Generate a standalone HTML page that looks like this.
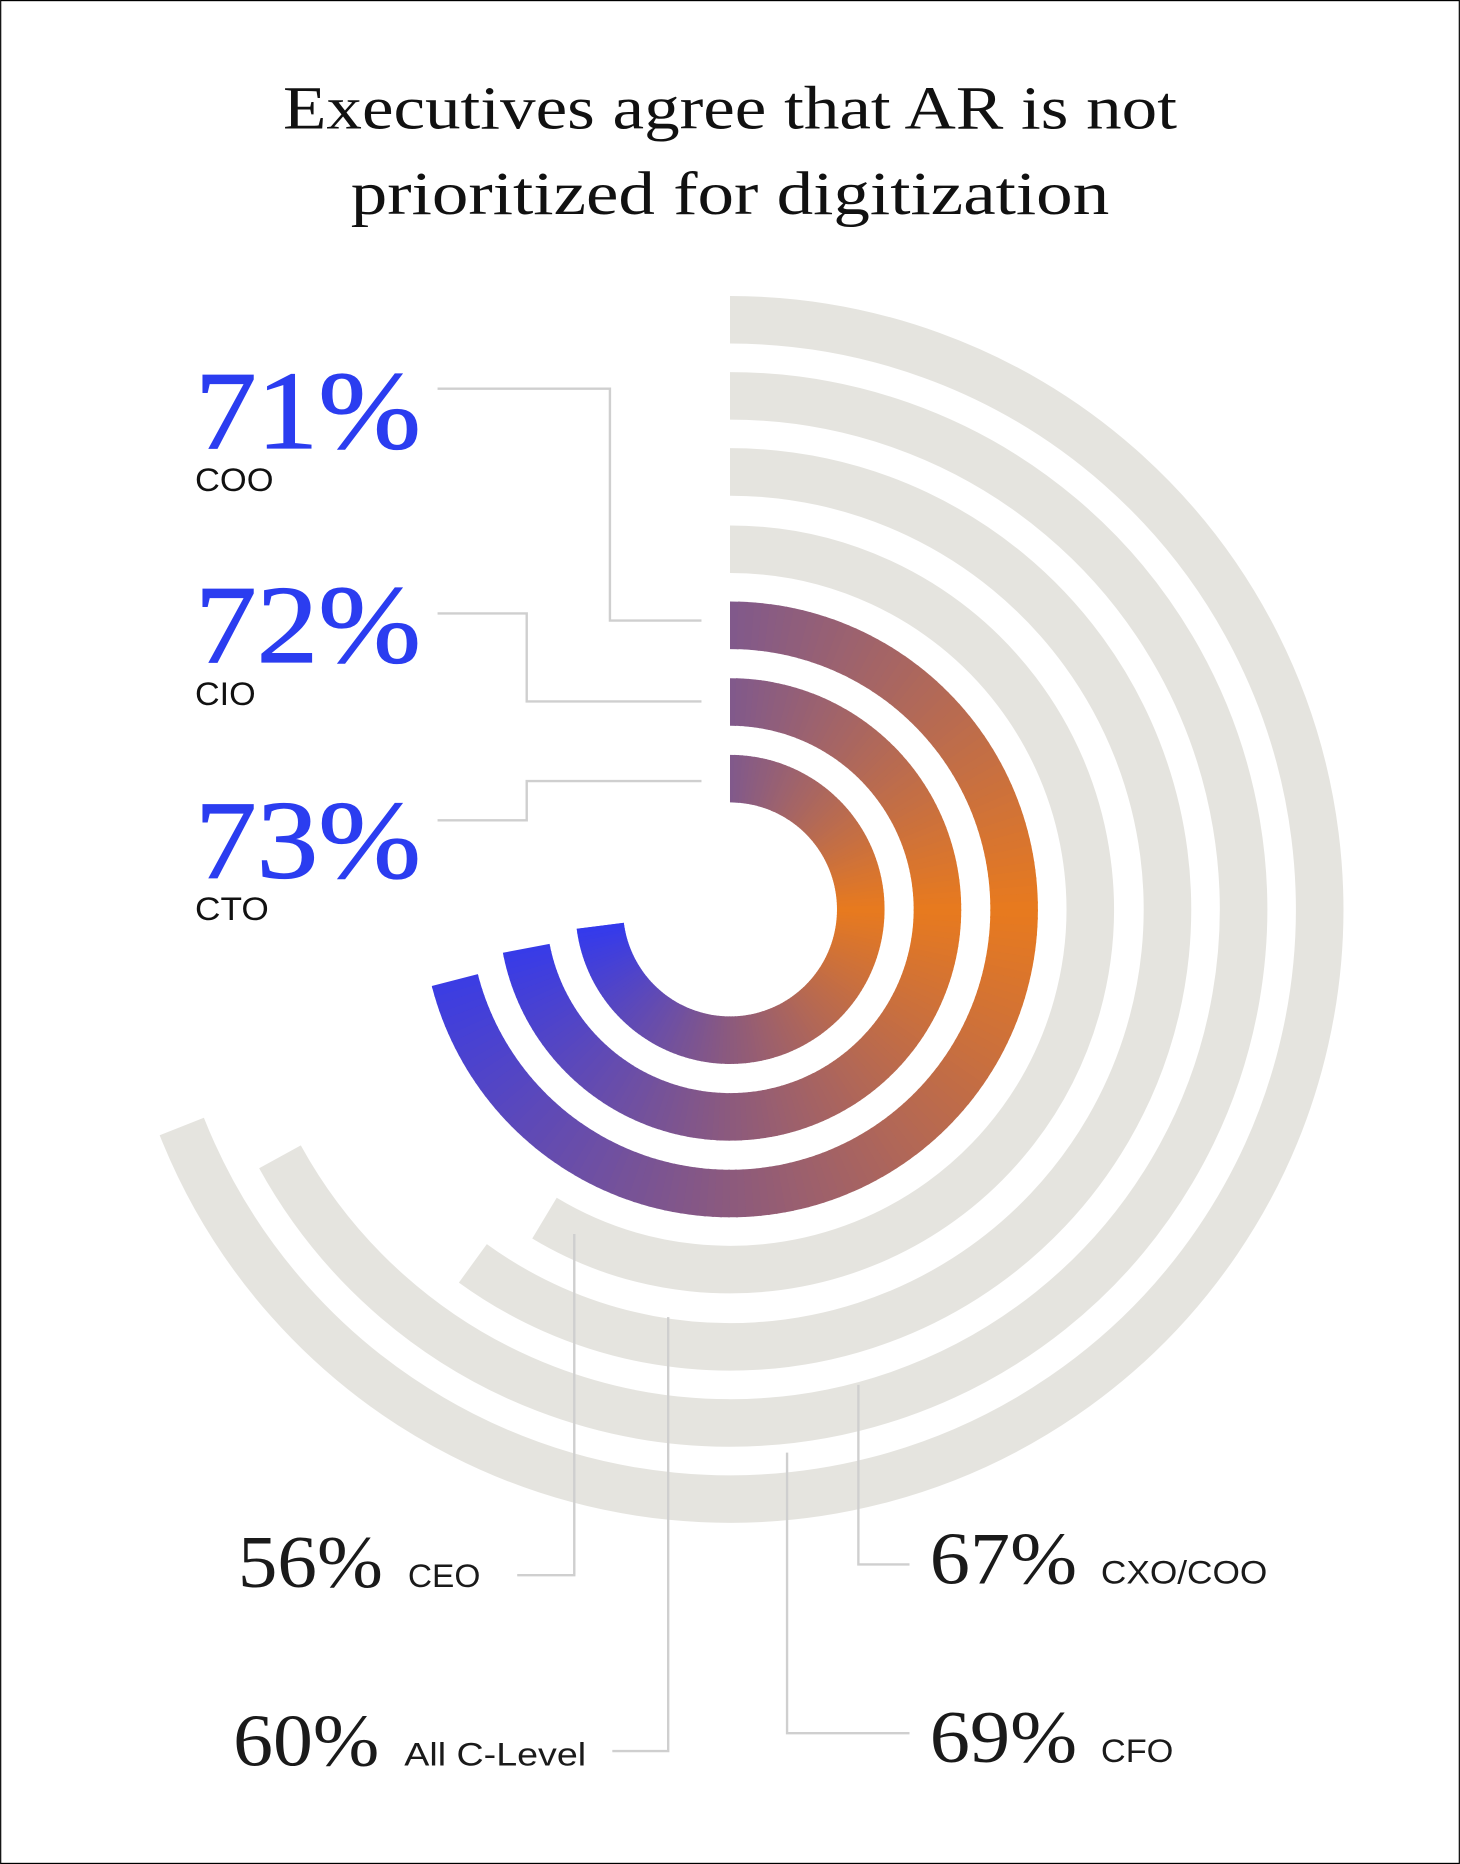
<!DOCTYPE html>
<html><head><meta charset="utf-8">
<style>
html,body{margin:0;padding:0;background:#fff;}
svg{display:block;}
.serif{font-family:"Liberation Serif","DejaVu Serif",serif;}
.sans{font-family:"Liberation Sans","DejaVu Sans",sans-serif;}
</style></head>
<body>
<svg id="s" width="1460" height="1864" viewBox="0 0 1228 1568" xmlns="http://www.w3.org/2000/svg">
<rect x="0.5" y="0.5" width="1227" height="1567" fill="#fff" stroke="#000" stroke-width="1"/>
<text class="serif" x="238" y="108" font-size="52" textLength="752" lengthAdjust="spacingAndGlyphs" fill="#111">Executives agree that AR is not</text>
<text class="serif" x="295" y="180" font-size="52" textLength="638" lengthAdjust="spacingAndGlyphs" fill="#111">prioritized for digitization</text>
<g id="arcs"></g>
<g fill="none" stroke="#cfcfcf" stroke-width="2">
<polyline points="368,327 513,327 513,522 590,522"/>
<polyline points="368,516 443,516 443,590 590,590"/>
<polyline points="368,690 443,690 443,657 590,657"/>
<polyline points="435,1325 483,1325 483,1038"/>
<polyline points="515,1473 562,1473 562,1108"/>
<polyline points="722,1165 722,1316 765,1316"/>
<polyline points="662,1222 662,1458 765,1458"/>
</g>
<g class="serif" fill="#2b3df0" font-size="94" stroke="#2b3df0" stroke-width="1">
<text x="164" y="377" textLength="190" lengthAdjust="spacingAndGlyphs">71%</text>
<text x="164" y="557" textLength="190" lengthAdjust="spacingAndGlyphs">72%</text>
<text x="164" y="738" textLength="190" lengthAdjust="spacingAndGlyphs">73%</text>
</g>
<g class="sans" fill="#111" font-size="27">
<text x="164" y="413" textLength="66" lengthAdjust="spacingAndGlyphs">COO</text>
<text x="164" y="593" textLength="51" lengthAdjust="spacingAndGlyphs">CIO</text>
<text x="164" y="774" textLength="62" lengthAdjust="spacingAndGlyphs">CTO</text>
</g>
<g class="serif" fill="#1a1a1a" font-size="62">
<text x="200" y="1335" textLength="122" lengthAdjust="spacingAndGlyphs">56%</text>
<text x="196" y="1485" textLength="123" lengthAdjust="spacingAndGlyphs">60%</text>
<text x="782" y="1332" textLength="124" lengthAdjust="spacingAndGlyphs">67%</text>
<text x="782" y="1482" textLength="124" lengthAdjust="spacingAndGlyphs">69%</text>
</g>
<g class="sans" fill="#1a1a1a" font-size="27">
<text x="343" y="1335" textLength="61" lengthAdjust="spacingAndGlyphs">CEO</text>
<text x="340" y="1485" textLength="153" lengthAdjust="spacingAndGlyphs">All C-Level</text>
<text x="926" y="1332" textLength="140" lengthAdjust="spacingAndGlyphs">CXO/COO</text>
<text x="926" y="1482" textLength="61" lengthAdjust="spacingAndGlyphs">CFO</text>
</g>
</svg>
<script>
(function(){
var cx=614,cy=765,g=document.getElementById('arcs'),NS='http://www.w3.org/2000/svg';
function pt(r,a){var t=a*Math.PI/180;return [cx+r*Math.sin(t),cy-r*Math.cos(t)];}
function arc(r,a1,a2,col){
 var p1=pt(r,a1),p2=pt(r,a2),lg=(a2-a1)>180?1:0;
 var e=document.createElementNS(NS,'path');
 e.setAttribute('d','M'+p1[0]+' '+p1[1]+' A'+r+' '+r+' 0 '+lg+' 1 '+p2[0]+' '+p2[1]);
 e.setAttribute('fill','none');e.setAttribute('stroke',col);e.setAttribute('stroke-width','40');
 g.appendChild(e);
}
var stops=[[0,[128,89,140]],[90,[232,122,30]],[180,[140,90,125]],[262,[52,58,236]]];
function col(a){
 for(var i=0;i<stops.length-1;i++){var s=stops[i],n=stops[i+1];
  if(a<=n[0]){var t=(a-s[0])/(n[0]-s[0]);
   return 'rgb('+[0,1,2].map(function(k){return Math.round(s[1][k]+(n[1][k]-s[1][k])*t);}).join(',')+')';}}
 return 'rgb(52,58,236)';
}
var gray=[[496,248.4],[432,241.2],[368,216],[303,211]];
gray.forEach(function(d){arc(d[0],0,d[1],'#e5e4df');});
var colr=[[239,71],[174.5,72],[110,73]];
colr.forEach(function(d){
 var end=d[1]*3.6,step=1.5;
 for(var a=0;a<end;a+=step){var b=Math.min(end,a+step+0.4);arc(d[0],a,b,col(a+step/2));}
});
})();
</script>
</body></html>
